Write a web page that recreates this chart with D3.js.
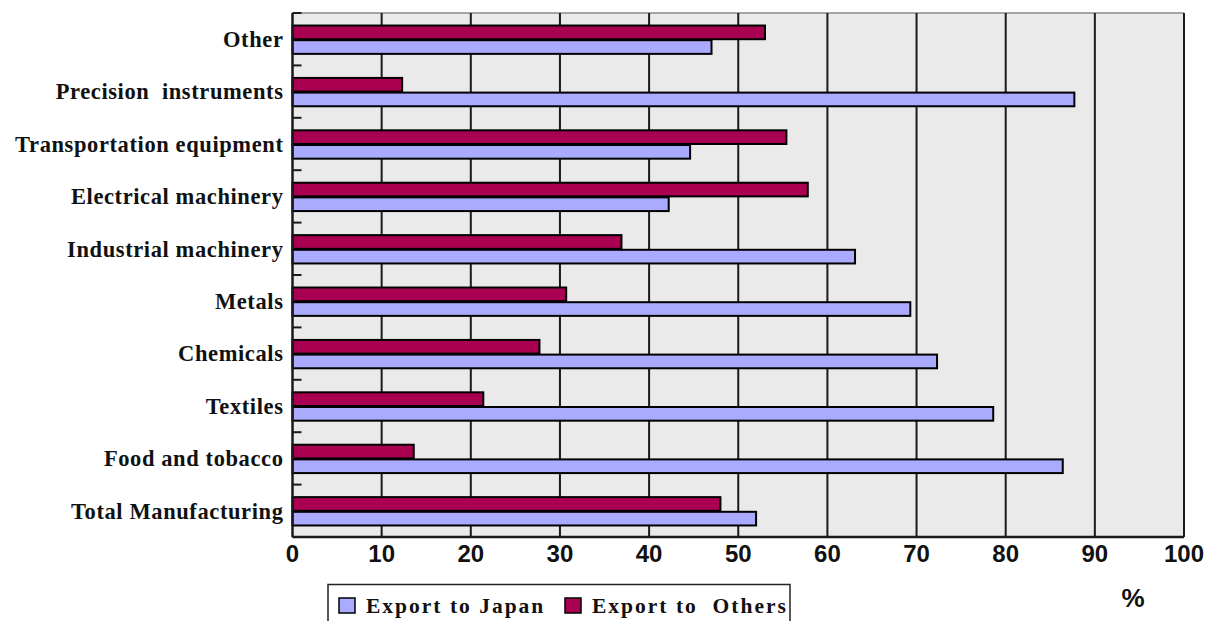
<!DOCTYPE html>
<html>
<head>
<meta charset="utf-8">
<script src="https://cdn.jsdelivr.net/npm/d3@7"></script>
<style>
  body { margin: 0; background: #fff; }
  text { white-space: pre; }
</style>
</head>
<body>
<div id="chart"></div>
<script>
// data (top to bottom)
var categories = ["Other", "Precision  instruments", "Transportation equipment", "Electrical machinery",
  "Industrial machinery", "Metals", "Chemicals", "Textiles", "Food and tobacco", "Total Manufacturing"];
var exportJapan  = [47.0, 87.7, 44.6, 42.2, 63.1, 69.3, 72.3, 78.6, 86.4, 52.0];
var exportOthers = [53.0, 12.3, 55.4, 57.8, 36.9, 30.7, 27.7, 21.4, 13.6, 48.0];
var seriesNames = ["Export to Japan", "Export to  Others"];
var xTicks = [0, 10, 20, 30, 40, 50, 60, 70, 80, 90, 100];

var width = 1211, height = 621;
var margin = {left: 292.5, right: 27, top: 13, bottom: 84};
var colors = ["#aaaaff", "#aa0052"];

var svg = d3.select("#chart").append("svg").attr("width", width).attr("height", height);
var g = svg.append("g").attr("transform", "translate(" + margin.left + "," + margin.top + ")");
var w = width - margin.left - margin.right, h = height - margin.top - margin.bottom;

var x = d3.scaleLinear().domain([0, 100]).range([0, w]);
var y = d3.scaleBand().domain(categories).range([0, h]).paddingInner(0.44).paddingOuter(0.22);
// red bar on top, blue below
var sub = d3.scaleBand().domain([1, 0]).range([0, y.bandwidth()]);
var step = h / categories.length;

// background
g.append("rect").attr("width", w).attr("height", h).attr("fill", "#eaeaea");
g.append("line").attr("x1", 0).attr("x2", w).attr("y1", 0).attr("y2", 0)
  .attr("stroke", "#8a8a8a").attr("stroke-width", 1.5);

// vertical grid
g.selectAll(".grid").data(xTicks.slice(1)).enter().append("line")
  .attr("x1", function(d){ return x(d); }).attr("x2", function(d){ return x(d); })
  .attr("y1", 0).attr("y2", h)
  .attr("stroke", "#1a1a1a").attr("stroke-width", 2);

// bars
var rows = categories.map(function(c, i){ return {cat: c, vals: [exportJapan[i], exportOthers[i]]}; });
rows.forEach(function(r){
  r.vals.forEach(function(v, s){
    g.append("rect")
      .attr("x", 0)
      .attr("y", y(r.cat) + sub(s) + 1)
      .attr("width", x(v))
      .attr("height", sub.bandwidth() - 1)
      .attr("fill", colors[s])
      .attr("stroke", "#000")
      .attr("stroke-width", 2);
  });
});

// category boundary ticks on the left axis
g.selectAll(".ytick").data(d3.range(categories.length + 1)).enter().append("line")
  .attr("x1", 0).attr("x2", 9)
  .attr("y1", function(d){ return d * step; }).attr("y2", function(d){ return d * step; })
  .attr("stroke", "#1a1a1a").attr("stroke-width", 2);

// axes lines
g.append("line").attr("x1", 0).attr("x2", 0).attr("y1", 0).attr("y2", h).attr("stroke", "#1a1a1a").attr("stroke-width", 2.5);
g.append("line").attr("x1", 0).attr("x2", w).attr("y1", h).attr("y2", h).attr("stroke", "#1a1a1a").attr("stroke-width", 2.5);

// x tick labels
g.selectAll(".xlab").data(xTicks).enter().append("text")
  .attr("x", function(d){ return x(d); })
  .attr("y", h + 25)
  .attr("text-anchor", "middle")
  .style("font-family", "Liberation Sans, Arial, sans-serif")
  .style("font-weight", "bold")
  .style("font-size", "24px")
  .attr("fill", "#111")
  .text(function(d){ return d; });

// category labels
g.selectAll(".ylab").data(categories).enter().append("text")
  .attr("x", -9)
  .attr("y", function(d){ return y(d) + y.bandwidth() / 2; })
  .attr("dy", "0.35em")
  .attr("text-anchor", "end")
  .style("font-family", "Liberation Serif, Times New Roman, serif")
  .style("font-weight", "bold")
  .style("font-size", "22.5px")
  .style("letter-spacing", "0.6px")
  .attr("fill", "#111")
  .text(function(d){ return d; });

// % unit
svg.append("text").attr("x", 1133).attr("y", 607).attr("text-anchor", "middle")
  .style("font-family", "Liberation Sans, Arial, sans-serif").style("font-weight", "bold").style("font-size", "26px")
  .attr("fill", "#111").text("%");

// legend
var legend = svg.append("g");
legend.append("rect").attr("x", 328).attr("y", 584.5).attr("width", 462).attr("height", 45)
  .attr("fill", "#fff").attr("stroke", "#222").attr("stroke-width", 1.5);
var legX = [339, 565];
seriesNames.forEach(function(n, i){
  legend.append("rect").attr("x", legX[i]).attr("y", 598).attr("width", 16).attr("height", 15)
    .attr("fill", colors[i]).attr("stroke", "#000").attr("stroke-width", 1.5);
  legend.append("text").attr("x", legX[i] + 27).attr("y", 612.5)
    .style("font-family", "Liberation Serif, Times New Roman, serif").style("font-weight", "bold")
    .style("font-size", "21.5px").style("letter-spacing", "2px")
    .attr("fill", "#111").text(n);
});
</script>
</body>
</html>
